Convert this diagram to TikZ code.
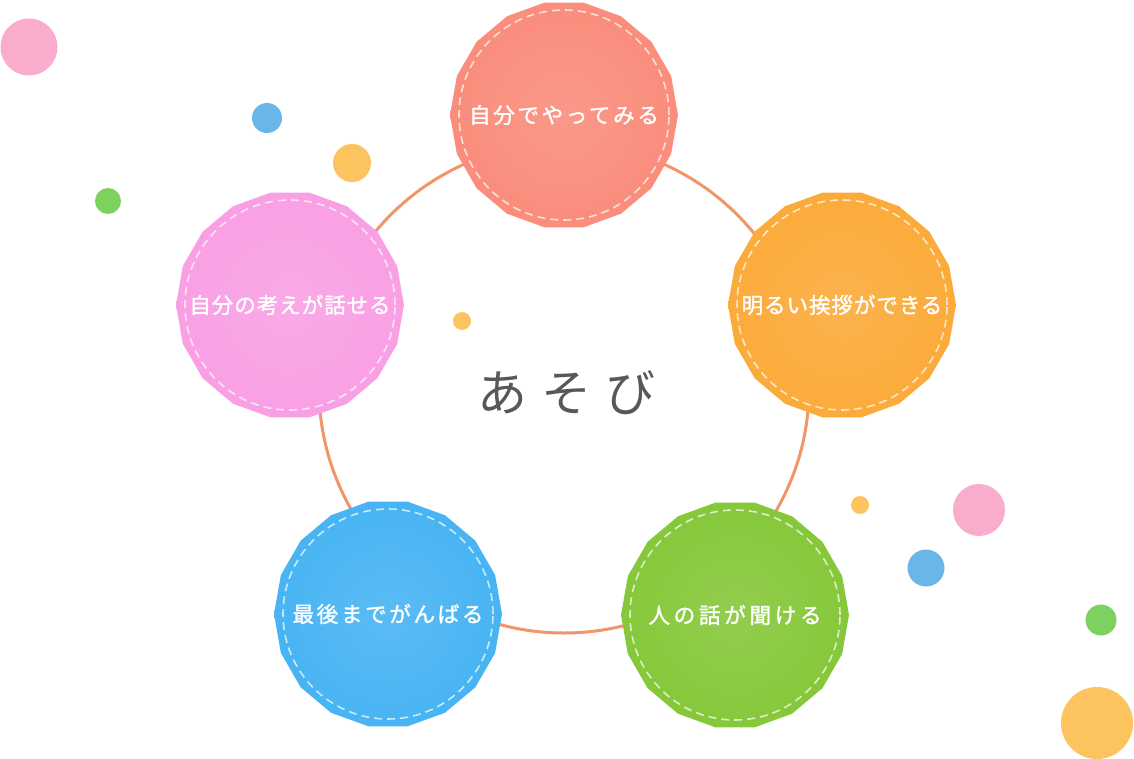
\documentclass[tikz,border=0pt]{standalone}
\usepackage{fontspec}
\usepackage{tikz}
\usetikzlibrary{shapes.geometric, positioning}
\newfontfamily\jpfont{Noto Sans CJK JP}
\newfontfamily\labelfont[FakeBold=1.4]{Noto Sans CJK JP}
\definecolor{tomato}{RGB}{250,141,124}
\definecolor{tangerine}{RGB}{251,171,58}
\definecolor{bubblegum}{RGB}{249,160,228}
\definecolor{sky}{RGB}{72,180,243}
\definecolor{leaf}{RGB}{134,200,58}
\definecolor{ringline}{RGB}{240,150,105}
\definecolor{inkgray}{RGB}{89,87,87}
\definecolor{dotpink}{RGB}{250,172,205}
\definecolor{dotblue}{RGB}{105,182,235}
\definecolor{dotorange}{RGB}{253,195,95}
\definecolor{dotgreen}{RGB}{125,210,95}

\begin{document}
\begin{tikzpicture}[
    x=0.5pt, y=-0.5pt,
    every node/.style={inner sep=0pt},
    bubble/.style={regular polygon, regular polygon sides=18, minimum size=114pt,
        inner color=#1!90!white, outer color=#1},
    tag/.style={text=white, font=\labelfont\fontsize{10.8}{12}\selectfont\addfontfeature{LetterSpace=#1}},
    stitch/.style={draw=white, draw opacity=0.7, line width=0.8pt, dash pattern=on 4pt off 2.5pt},
    ring/.style={draw=ringline, line width=1.5pt},
    dot/.style={circle, minimum size=#1}
]
\useasboundingbox (0,0) rectangle (1134,759);

% ring behind the bubbles
\coordinate (hub) at (564,388);
\draw[ring] (hub) circle[radius=122.5pt];

\node[text=inkgray, font=\jpfont\fontsize{25}{30}\selectfont\addfontfeature{LetterSpace=28}] (title) at (566,393) {あそび};

\node[bubble=tomato, label={[tag=12]center:自分でやってみる}] (self) at (564,115) {};
\node[bubble=tangerine, label={[tag=4]center:明るい挨拶ができる}] (greet) at (842,305) {};
\node[bubble=leaf, label={[tag=17]center:人の話が聞ける}] (listen) at (735,615) {};
\node[bubble=sky, label={[tag=12]center:最後までがんばる}] (persist) at (388,614) {};
\node[bubble=bubblegum, label={[tag=4]center:自分の考えが話せる}] (speak) at (290,305) {};

\foreach \n in {self,greet,listen,persist,speak} {
    \draw[stitch] (\n.center) circle[radius=52.5pt];
}

% scattered dots
\foreach \cx/\cy/\r/\c [count=\i] in {29/47/28.5/dotpink, 267/118/15/dotblue, 352/163/19/dotorange,
    108/201/13/dotgreen, 462/321/9/dotorange, 860/505/9/dotorange, 979/510/26/dotpink,
    926/568/18.5/dotblue, 1101/620/15.5/dotgreen, 1097/723/36/dotorange} {
    \node[dot=\r pt, fill=\c] (dot\i) at (\cx,\cy) {};
}

\end{tikzpicture}
\end{document}
